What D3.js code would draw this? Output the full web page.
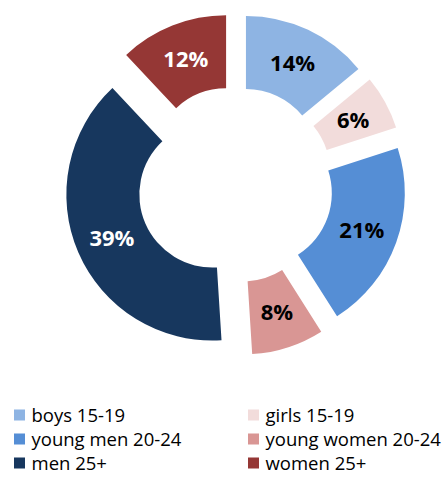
<!DOCTYPE html>
<html>
<head>
<meta charset="utf-8">
<script src="https://cdn.jsdelivr.net/npm/d3@7"></script>
<style>
  body { margin: 0; background: #fff; }
  svg { display: block; }
</style>
</head>
<body>
<div id="vis"></div>
<script>
const categories = ["boys 15-19", "girls 15-19", "young men 20-24", "young women 20-24", "men 25+", "women 25+"];
const shares = [14, 6, 21, 8, 39, 12];
const colors = ["#8EB4E3", "#F2DCDB", "#558ED5", "#D99694", "#17375E", "#953735"];
const labelColors = ["#000", "#000", "#000", "#000", "#fff", "#fff"];

const FRAME_WIDTH = 445;
const FRAME_HEIGHT = 478;
const CENTER = {x: 235.3, y: 184.6};
const OUTER_R = 146;
const INNER_R = 73;
const EXPLODE = 25;

const svg = d3.select('#vis')
                .append("svg")
                .attr('width', FRAME_WIDTH)
                .attr('height', FRAME_HEIGHT);

const pie = d3.pie().sort(null).value(d => d.value);
const arc = d3.arc().innerRadius(INNER_R).outerRadius(OUTER_R);

const slices = pie(categories.map((c, i) => ({name: c, value: shares[i], i: i})));

const donut = svg.append("g")
                .attr('transform', 'translate(' + CENTER.x + ',' + CENTER.y + ')');

// each slice pulled out along its middle angle
const sliceG = donut.selectAll("g.slice")
    .data(slices)
    .enter()
    .append("g")
        .attr('class', 'slice')
        .attr('transform', d => {
            const mid = (d.startAngle + d.endAngle) / 2;
            return 'translate(' + (EXPLODE * Math.sin(mid)) + ',' + (-EXPLODE * Math.cos(mid)) + ')';
        });

sliceG.append("path")
    .attr('d', arc)
    .attr('fill', d => colors[d.data.i]);

sliceG.append("text")
    .attr('transform', d => 'translate(' + arc.centroid(d) + ')')
    .attr('text-anchor', 'middle')
    .attr('dy', '0.36em')
    .attr('font-family', '"Open Sans", sans-serif')
    .attr('font-weight', 'bold')
    .attr('font-size', '22px')
    .attr('fill', d => labelColors[d.data.i])
    .text(d => d.data.value + '%');

// legend, two columns
const LEGEND = {x0: 14, x1: 248, y0: 415, rowH: 24, box: 11};
const legend = svg.append("g");

const items = legend.selectAll("g.item")
    .data(categories)
    .enter()
    .append("g")
        .attr('class', 'item')
        .attr('transform', (d, i) => 'translate(' + (i % 2 === 0 ? LEGEND.x0 : LEGEND.x1) + ',' + (LEGEND.y0 + Math.floor(i / 2) * LEGEND.rowH) + ')');

items.append("rect")
    .attr('x', 0)
    .attr('y', -LEGEND.box / 2)
    .attr('width', LEGEND.box)
    .attr('height', LEGEND.box)
    .attr('fill', (d, i) => colors[i]);

items.append("text")
    .attr('x', 17.5)
    .attr('y', 6.5)
    .attr('font-family', '"Open Sans", sans-serif')
    .attr('font-size', '18.5px')
    .attr('fill', '#000')
    .text(d => d);
</script>
</body>
</html>
